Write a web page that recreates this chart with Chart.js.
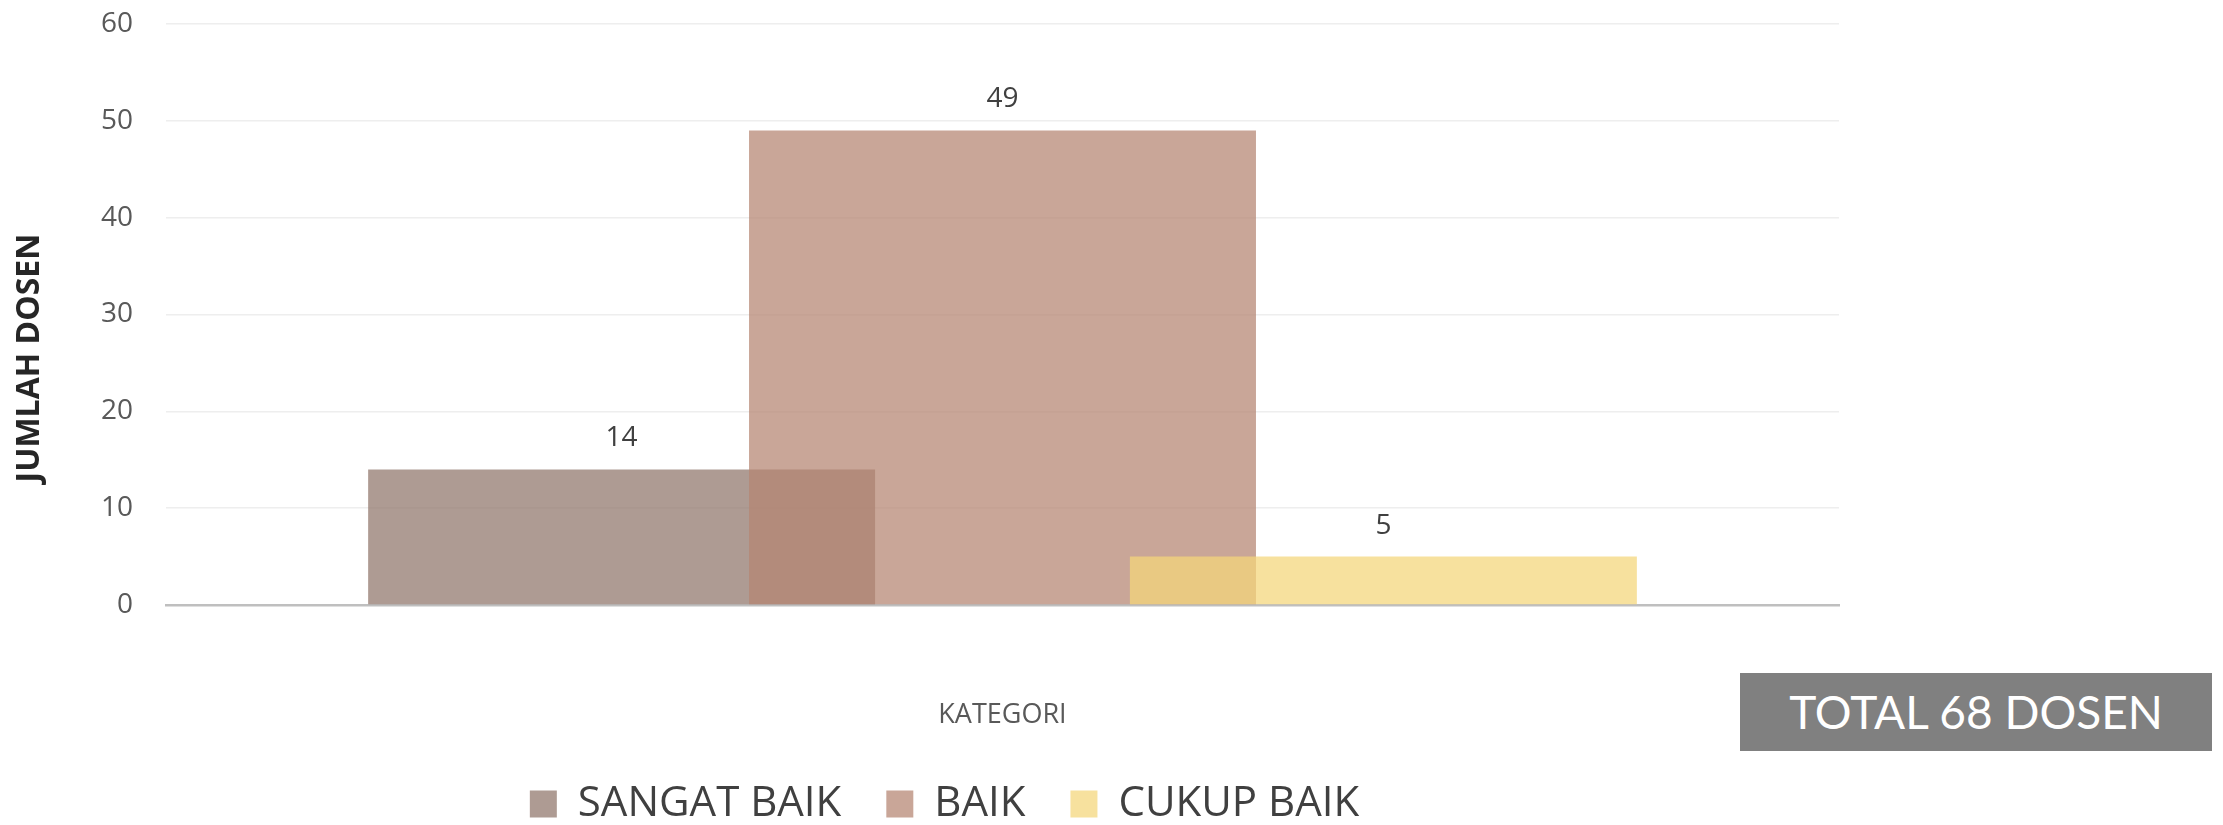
<!DOCTYPE html>
<html>
<head>
<meta charset="utf-8">
<script src="https://cdn.jsdelivr.net/npm/chart.js@4.4.1/dist/chart.umd.min.js"></script>
<style>
  html, body { margin: 0; padding: 0; background: #ffffff; }
  #wrap { position: relative; width: 2223px; height: 825px; }
  #c { position: absolute; left: 0; top: 0; }
  #total {
    position: absolute; left: 1740px; top: 673px; width: 472px; height: 78px;
    background: #808080; color: #ffffff;
    font-family: Lato, "Open Sans", sans-serif; font-size: 46px; line-height: 78px;
    text-align: center; white-space: nowrap;
  }
</style>
</head>
<body>
<div id="wrap">
  <canvas id="c" width="2223" height="825"></canvas>
  <div id="total"></div>
</div>
<script>
// ---- data ----
const categories = ['Dosen'];
const seriesNames = ['SANGAT BAIK', 'BAIK', 'CUKUP BAIK'];
const sangatBaik = [14];
const baik = [49];
const cukupBaik = [5];
const yTicks = [0, 10, 20, 30, 40, 50, 60];
const xTitle = 'KATEGORI';
const yTitle = 'JUMLAH DOSEN';
const totalLabel = 'TOTAL 68 DOSEN';

// ---- styles ----
const colors = ['rgba(144,118,107,0.73)', 'rgba(181,133,114,0.73)', 'rgba(244,214,122,0.73)'];
const textFont = '"Open Sans", "DejaVu Sans", sans-serif';

document.getElementById('total').textContent = totalLabel;

// Draw datasets so that later series sit on top, then value labels and the y title.
const orderAndLabels = {
  id: 'orderAndLabels',
  beforeLayout(chart) {
    const lg = chart.legend;
    if (lg && !lg._fixedFit) {
      const f = lg.fit;
      lg.fit = function () { f.call(this); this.height = 87; };
      lg._fixedFit = true;
    }
  },
  beforeDatasetsDraw(chart) {
    const ctx = chart.ctx;
    const metas = chart.getSortedVisibleDatasetMetas();
    metas.forEach(m => m.controller.draw());
    ctx.save();
    ctx.font = '28px ' + textFont;
    ctx.fillStyle = '#404040';
    ctx.textAlign = 'center';
    ctx.textBaseline = 'middle';
    metas.forEach(m => {
      const ds = chart.data.datasets[m.index];
      m.data.forEach((el, i) => {
        ctx.fillText(String(ds.data[i]), el.x, el.y - 31);
      });
    });
    ctx.restore();
    return false;
  },
  afterDraw(chart) {
    const ctx = chart.ctx;
    const ys = chart.scales.y;
    ctx.save();
    ctx.translate(30, ys.getPixelForValue(25.5));
    ctx.rotate(-Math.PI / 2);
    ctx.font = 'bold 32px ' + textFont;
    ctx.fillStyle = '#262626';
    ctx.textAlign = 'center';
    ctx.textBaseline = 'middle';
    ctx.fillText(yTitle, 0, 0);
    ctx.restore();
  }
};

const seriesData = [sangatBaik, baik, cukupBaik];

new Chart(document.getElementById('c'), {
  type: 'bar',
  data: {
    labels: categories,
    datasets: seriesNames.map((name, i) => ({
      label: name,
      data: seriesData[i],
      backgroundColor: colors[i],
      borderWidth: 0,
      categoryPercentage: 0.683,
      barPercentage: 1.331
    }))
  },
  options: {
    responsive: false,
    animation: false,
    devicePixelRatio: 1,
    layout: { padding: { left: 0, right: 334, top: 24, bottom: 0 } },
    plugins: {
      tooltip: { enabled: false },
      legend: {
        position: 'bottom',
        align: 'center',
        labels: {
          boxWidth: 27,
          boxHeight: 27,
          padding: 45,
          color: '#404040',
          font: { family: textFont, size: 42 }
        }
      }
    },
    scales: {
      x: {
        grid: { display: false, drawTicks: false },
        border: { display: true, color: '#bfbfbf', width: 2.5 },
        ticks: { display: false },
        title: {
          display: true,
          text: xTitle,
          color: '#595959',
          font: { family: textFont, size: 27 },
          padding: { top: 0, bottom: 6 }
        },
        afterFit(scale) { scale.height = 133; scale.paddingRight = 384; scale.paddingLeft = 0; }
      },
      y: {
        min: 0,
        max: 60,
        afterBuildTicks(scale) { scale.ticks = yTicks.map(v => ({ value: v })); },
        grid: { color: '#eeeeee', lineWidth: 1.5, drawTicks: false },
        border: { display: false },
        ticks: {
          padding: 33,
          color: '#595959',
          font: { family: textFont, size: 28 }
        },
        title: { display: false, text: yTitle },
        afterFit(scale) { scale.width = 166; scale.paddingTop = 0; scale.paddingBottom = 0; }
      }
    }
  },
  plugins: [orderAndLabels]
});
</script>
</body>
</html>
